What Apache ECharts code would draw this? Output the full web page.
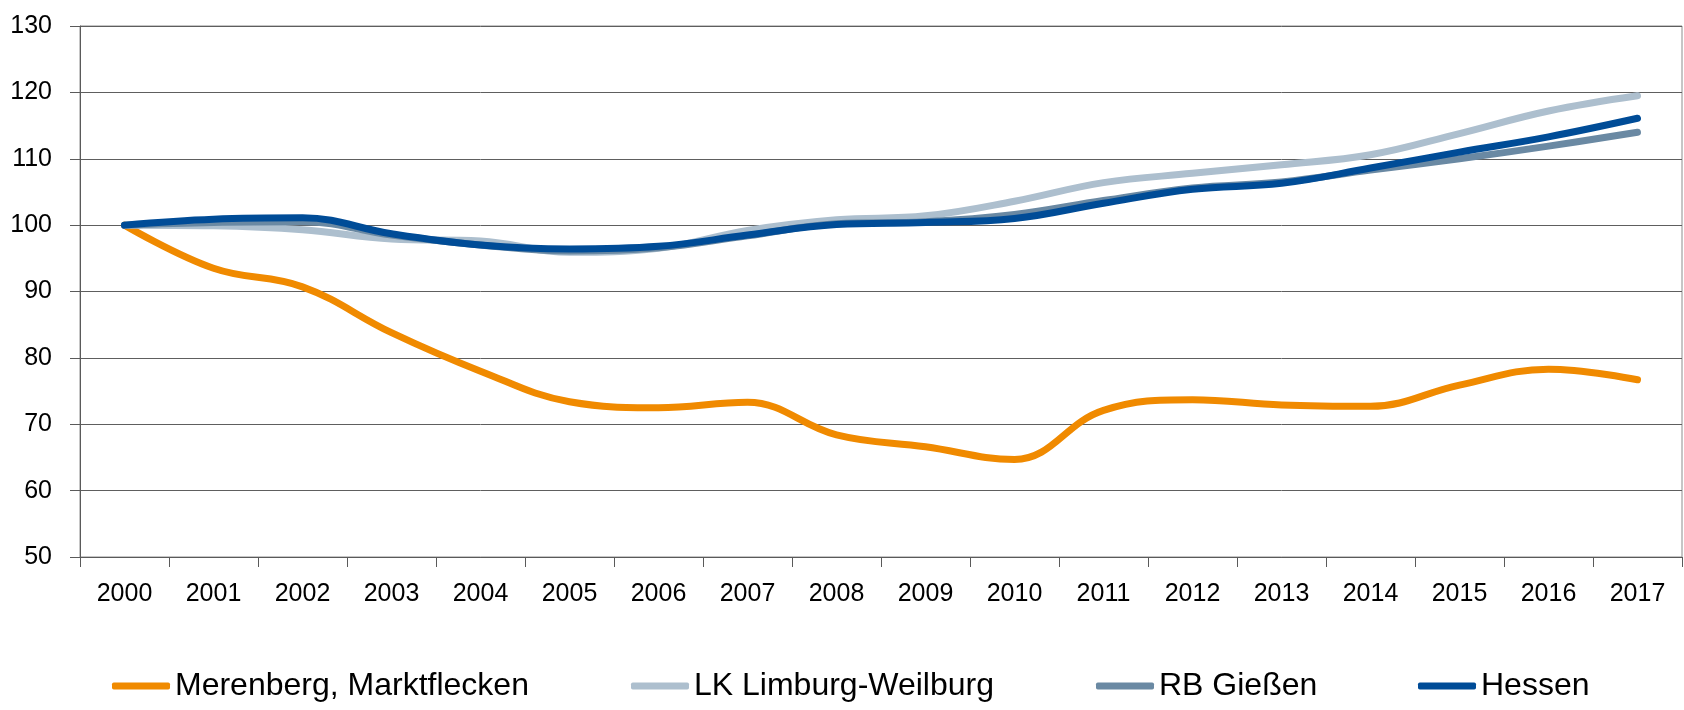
<!DOCTYPE html>
<html>
<head>
<meta charset="utf-8">
<script src="https://cdn.jsdelivr.net/npm/echarts@6/dist/echarts.min.js"></script>
<style>
  html, body { margin: 0; padding: 0; background: #ffffff; }
  #chart { width: 1684px; height: 710px; }
</style>
</head>
<body>
<div id="chart"></div>
<script>
// Bevölkerungsentwicklung, Index 2000 = 100
const years = ['2000','2001','2002','2003','2004','2005','2006','2007','2008',
               '2009','2010','2011','2012','2013','2014','2015','2016','2017'];

const merenberg = [100, 93.5, 90.7, 83.8, 78.0, 73.4, 72.5, 73.3, 68.4,
                   66.6, 64.7, 72.1, 73.7, 72.9, 72.7, 75.9, 78.3, 76.7];
const limburgWeilburg = [100, 99.9, 99.3, 97.9, 97.6, 95.9, 96.5, 99.2, 100.8,
                         101.4, 103.6, 106.4, 107.8, 109.1, 110.6, 113.8, 117.2, 119.5];
const rbGiessen = [100, 100.4, 100.5, 98.5, 97.0, 96.1, 96.6, 98.4, 100.2,
                   100.5, 101.6, 103.7, 105.6, 106.5, 108.3, 110.0, 111.9, 114.0];
const hessen = [100, 100.9, 101.1, 98.7, 97.0, 96.4, 96.8, 98.5, 100.1,
                100.4, 101.0, 103.3, 105.4, 106.3, 108.6, 111.0, 113.3, 116.1];

const seriesNames = ['Merenberg, Marktflecken', 'LK Limburg-Weilburg', 'RB Gießen', 'Hessen'];
const seriesColors = ['#F08A00', '#ADBFCE', '#6A89A3', '#004C97'];
const seriesData = [merenberg, limburgWeilburg, rbGiessen, hessen];

// left edge of each legend entry
const legendLefts = [112, 631, 1096, 1418];

const FONT = '"Liberation Sans", Arial, sans-serif';

const chart = echarts.init(document.getElementById('chart'), null, { renderer: 'canvas' });

chart.setOption({
  animation: false,
  backgroundColor: '#ffffff',
  grid: {
    left: 80, right: 2, top: 26, bottom: 153,
    show: true, borderColor: '#8c8c8c', borderWidth: 1
  },
  xAxis: {
    type: 'category',
    data: years,
    boundaryGap: true,
    axisLine: { lineStyle: { color: '#5a5a5a', width: 1 } },
    axisTick: { show: true, length: 10, alignWithLabel: false, lineStyle: { color: '#5a5a5a' } },
    axisLabel: { color: '#000', fontFamily: FONT, fontSize: 25, margin: 25 },
    splitLine: { show: false }
  },
  yAxis: {
    type: 'value',
    min: 50, max: 130, interval: 10,
    axisLine: { show: true, lineStyle: { color: '#5a5a5a', width: 1 } },
    axisTick: { show: true, length: 10, lineStyle: { color: '#5a5a5a' } },
    axisLabel: { color: '#000', fontFamily: FONT, fontSize: 25, margin: 28 },
    splitLine: { show: true, lineStyle: { color: '#5e5e5e', width: 1 } }
  },
  legend: seriesNames.map((name, i) => ({
    data: [name],
    left: legendLefts[i], top: 670,
    padding: 0,
    icon: 'roundRect',
    itemWidth: 58, itemHeight: 7,
    textStyle: { color: '#000', fontFamily: FONT, fontSize: 32 }
  })),
  series: seriesNames.map((name, i) => ({
    name: name,
    type: 'line',
    data: seriesData[i],
    smooth: 0.4,
    symbol: 'none',
    z: 2 + i,
    lineStyle: { color: seriesColors[i], width: 7, cap: 'round', join: 'round' },
    itemStyle: { color: seriesColors[i] }
  }))
});
</script>
</body>
</html>
